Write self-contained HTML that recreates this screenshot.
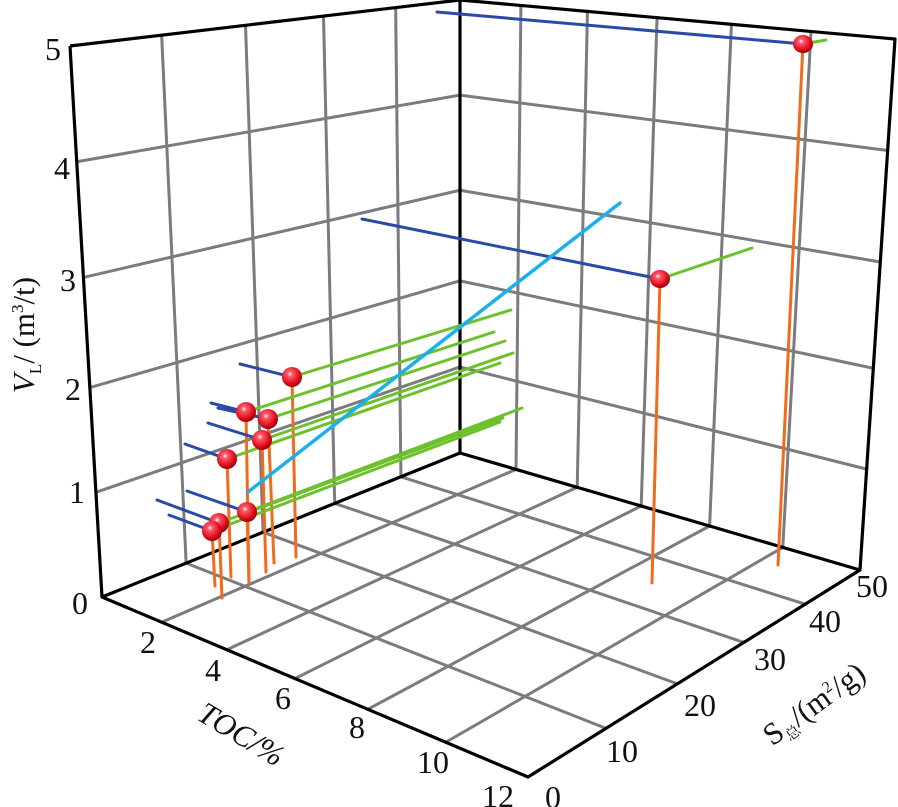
<!DOCTYPE html>
<html><head><meta charset="utf-8">
<style>
html,body{margin:0;padding:0;background:#fff;}
svg{display:block;}
text{font-family:"Liberation Serif","Noto Serif CJK SC",serif;fill:#111;}
</style></head>
<body>
<svg id="s" width="898" height="807" viewBox="0 0 898 807" xmlns="http://www.w3.org/2000/svg">
<defs>
<radialGradient id="rg" cx="0.4" cy="0.35" r="0.65">
<stop offset="0" stop-color="#ffffff"/>
<stop offset="0.2" stop-color="#ff5a6a"/>
<stop offset="0.7" stop-color="#e0101e"/>
<stop offset="1" stop-color="#a0000a"/>
</radialGradient>
</defs>
<g id="grid" stroke="#7b7b80" stroke-width="3" fill="none" stroke-linecap="round"></g>
<g id="box" stroke="#000" stroke-width="3.2" fill="none" stroke-linejoin="round"></g>
<g id="data" fill="none" stroke-width="3" stroke-linecap="round">
<g stroke="#f26b1d">
<line x1="803" y1="44" x2="778" y2="565"/>
<line x1="660" y1="279" x2="652" y2="583"/>
<line x1="292" y1="377" x2="296" y2="557"/>
<line x1="246" y1="412" x2="249" y2="583"/>
<line x1="268" y1="419" x2="274" y2="563"/>
<line x1="262" y1="440" x2="266" y2="572"/>
<line x1="227" y1="459" x2="231" y2="577"/>
<line x1="247" y1="512" x2="249" y2="583"/>
<line x1="219" y1="523" x2="222" y2="598"/>
<line x1="212" y1="531" x2="215" y2="586"/>
</g>
<g stroke="#2a4aa8">
<line x1="803" y1="44" x2="437" y2="12"/>
<line x1="660" y1="279" x2="362" y2="219"/>
<line x1="292" y1="377" x2="240" y2="364"/>
<line x1="246" y1="412" x2="211" y2="403"/>
<line x1="268" y1="419" x2="218" y2="408"/>
<line x1="262" y1="440" x2="208" y2="423"/>
<line x1="227" y1="459" x2="185" y2="444"/>
<line x1="247" y1="512" x2="187" y2="491"/>
<line x1="219" y1="523" x2="157" y2="500"/>
<line x1="212" y1="531" x2="169" y2="515"/>
</g>
<g stroke="#6cc12c">
<line x1="803" y1="44" x2="826" y2="40"/>
<line x1="660" y1="279" x2="752" y2="248"/>
<line x1="292" y1="377" x2="511" y2="310"/>
<line x1="246" y1="412" x2="494" y2="332"/>
<line x1="268" y1="419" x2="505" y2="341"/>
<line x1="262" y1="440" x2="513" y2="353"/>
<line x1="227" y1="459" x2="500" y2="363"/>
<line x1="247" y1="512" x2="522" y2="408"/>
<line x1="219" y1="523" x2="503" y2="418"/>
<line x1="212" y1="531" x2="500" y2="422"/>
</g>
<line x1="248" y1="492" x2="620" y2="203" stroke="#1ab0ea" stroke-width="3.5"/>
</g>
<g id="balls" fill="url(#rg)">
<ellipse cx="803" cy="44" rx="10" ry="9"/>
<ellipse cx="660" cy="279" rx="10" ry="9"/>
<circle cx="292" cy="377" r="10"/>
<circle cx="246" cy="412" r="10"/>
<circle cx="268" cy="419" r="10"/>
<circle cx="262" cy="440" r="10"/>
<circle cx="227" cy="459" r="10"/>
<circle cx="247" cy="512" r="10"/>
<circle cx="219" cy="523" r="10"/>
<circle cx="212" cy="531" r="10"/>
</g>
<g font-size="32" text-anchor="middle">
<text x="53" y="60">5</text>
<text x="62" y="179">4</text>
<text x="68" y="291">3</text>
<text x="73" y="400">2</text>
<text x="77" y="503">1</text>
<text x="80" y="614">0</text>
<text x="148" y="653">2</text>
<text x="213" y="681">4</text>
<text x="283" y="709">6</text>
<text x="357" y="738">8</text>
<text x="433" y="773">10</text>
<text x="498" y="807">12</text>
<text x="553" y="808">0</text>
<text x="622" y="762">10</text>
<text x="700" y="716">20</text>
<text x="770" y="670">30</text>
<text x="825" y="632">40</text>
<text x="872" y="597">50</text>
</g>
<text font-size="31" font-style="italic" transform="translate(236,743) rotate(31)" text-anchor="middle">TOC/%</text>
<text font-size="31" transform="translate(820,712) rotate(-36)" text-anchor="middle">S<tspan font-size="15" dy="6">总</tspan><tspan dy="-6">/(m</tspan><tspan font-size="16" dy="-11">2</tspan><tspan dy="11">/g)</tspan></text>
<text font-size="31" transform="translate(34,335) rotate(-90)" text-anchor="middle"><tspan font-style="italic">V</tspan><tspan font-size="17" dy="7">L</tspan><tspan dy="-7">/ (m</tspan><tspan font-size="17" dy="-11">3</tspan><tspan dy="11">/t)</tspan></text>
</svg>
<script>
(function(){
var NS="http://www.w3.org/2000/svg";
var L=[102,597],F=[528,777],R=[860,570],B=[460,453];
var Lt=[70,46],Bt=[460,0],Rt=[895,39];
var Vf=[0,0.19,0.38,0.58,0.79,1];
var Tf=[0,0.14,0.293,0.453,0.624,0.807,1];
var Sf=[0,0.235,0.45,0.65,0.835,1];
function lp(a,b,t){return [a[0]+(b[0]-a[0])*t,a[1]+(b[1]-a[1])*t];}
function ln(g,p,q){var e=document.createElementNS(NS,"line");e.setAttribute("x1",p[0]);e.setAttribute("y1",p[1]);e.setAttribute("x2",q[0]);e.setAttribute("y2",q[1]);g.appendChild(e);}
var g=document.getElementById("grid"),bx=document.getElementById("box");
var i;
for(i=1;i<5;i++){ln(g,lp(L,Lt,Vf[i]),lp(B,Bt,Vf[i]));}
for(i=1;i<5;i++){ln(g,lp(L,B,Sf[i]),lp(Lt,Bt,Sf[i]));}
for(i=1;i<5;i++){ln(g,lp(B,Bt,Vf[i]),lp(R,Rt,Vf[i]));}
for(i=1;i<6;i++){ln(g,lp(B,R,Tf[i]),lp(Bt,Rt,Tf[i]));}
for(i=1;i<6;i++){ln(g,lp(L,F,Tf[i]),lp(B,R,Tf[i]));}
for(i=1;i<5;i++){ln(g,lp(L,B,Sf[i]),lp(F,R,Sf[i]));}
var pl=document.createElementNS(NS,"polyline");
pl.setAttribute("points",[Lt,L,F,R,Rt,Bt,Lt].map(function(p){return p.join(",");}).join(" "));
bx.appendChild(pl);
ln(bx,L,B);ln(bx,B,R);ln(bx,B,Bt);
})();
</script>
</body></html>
